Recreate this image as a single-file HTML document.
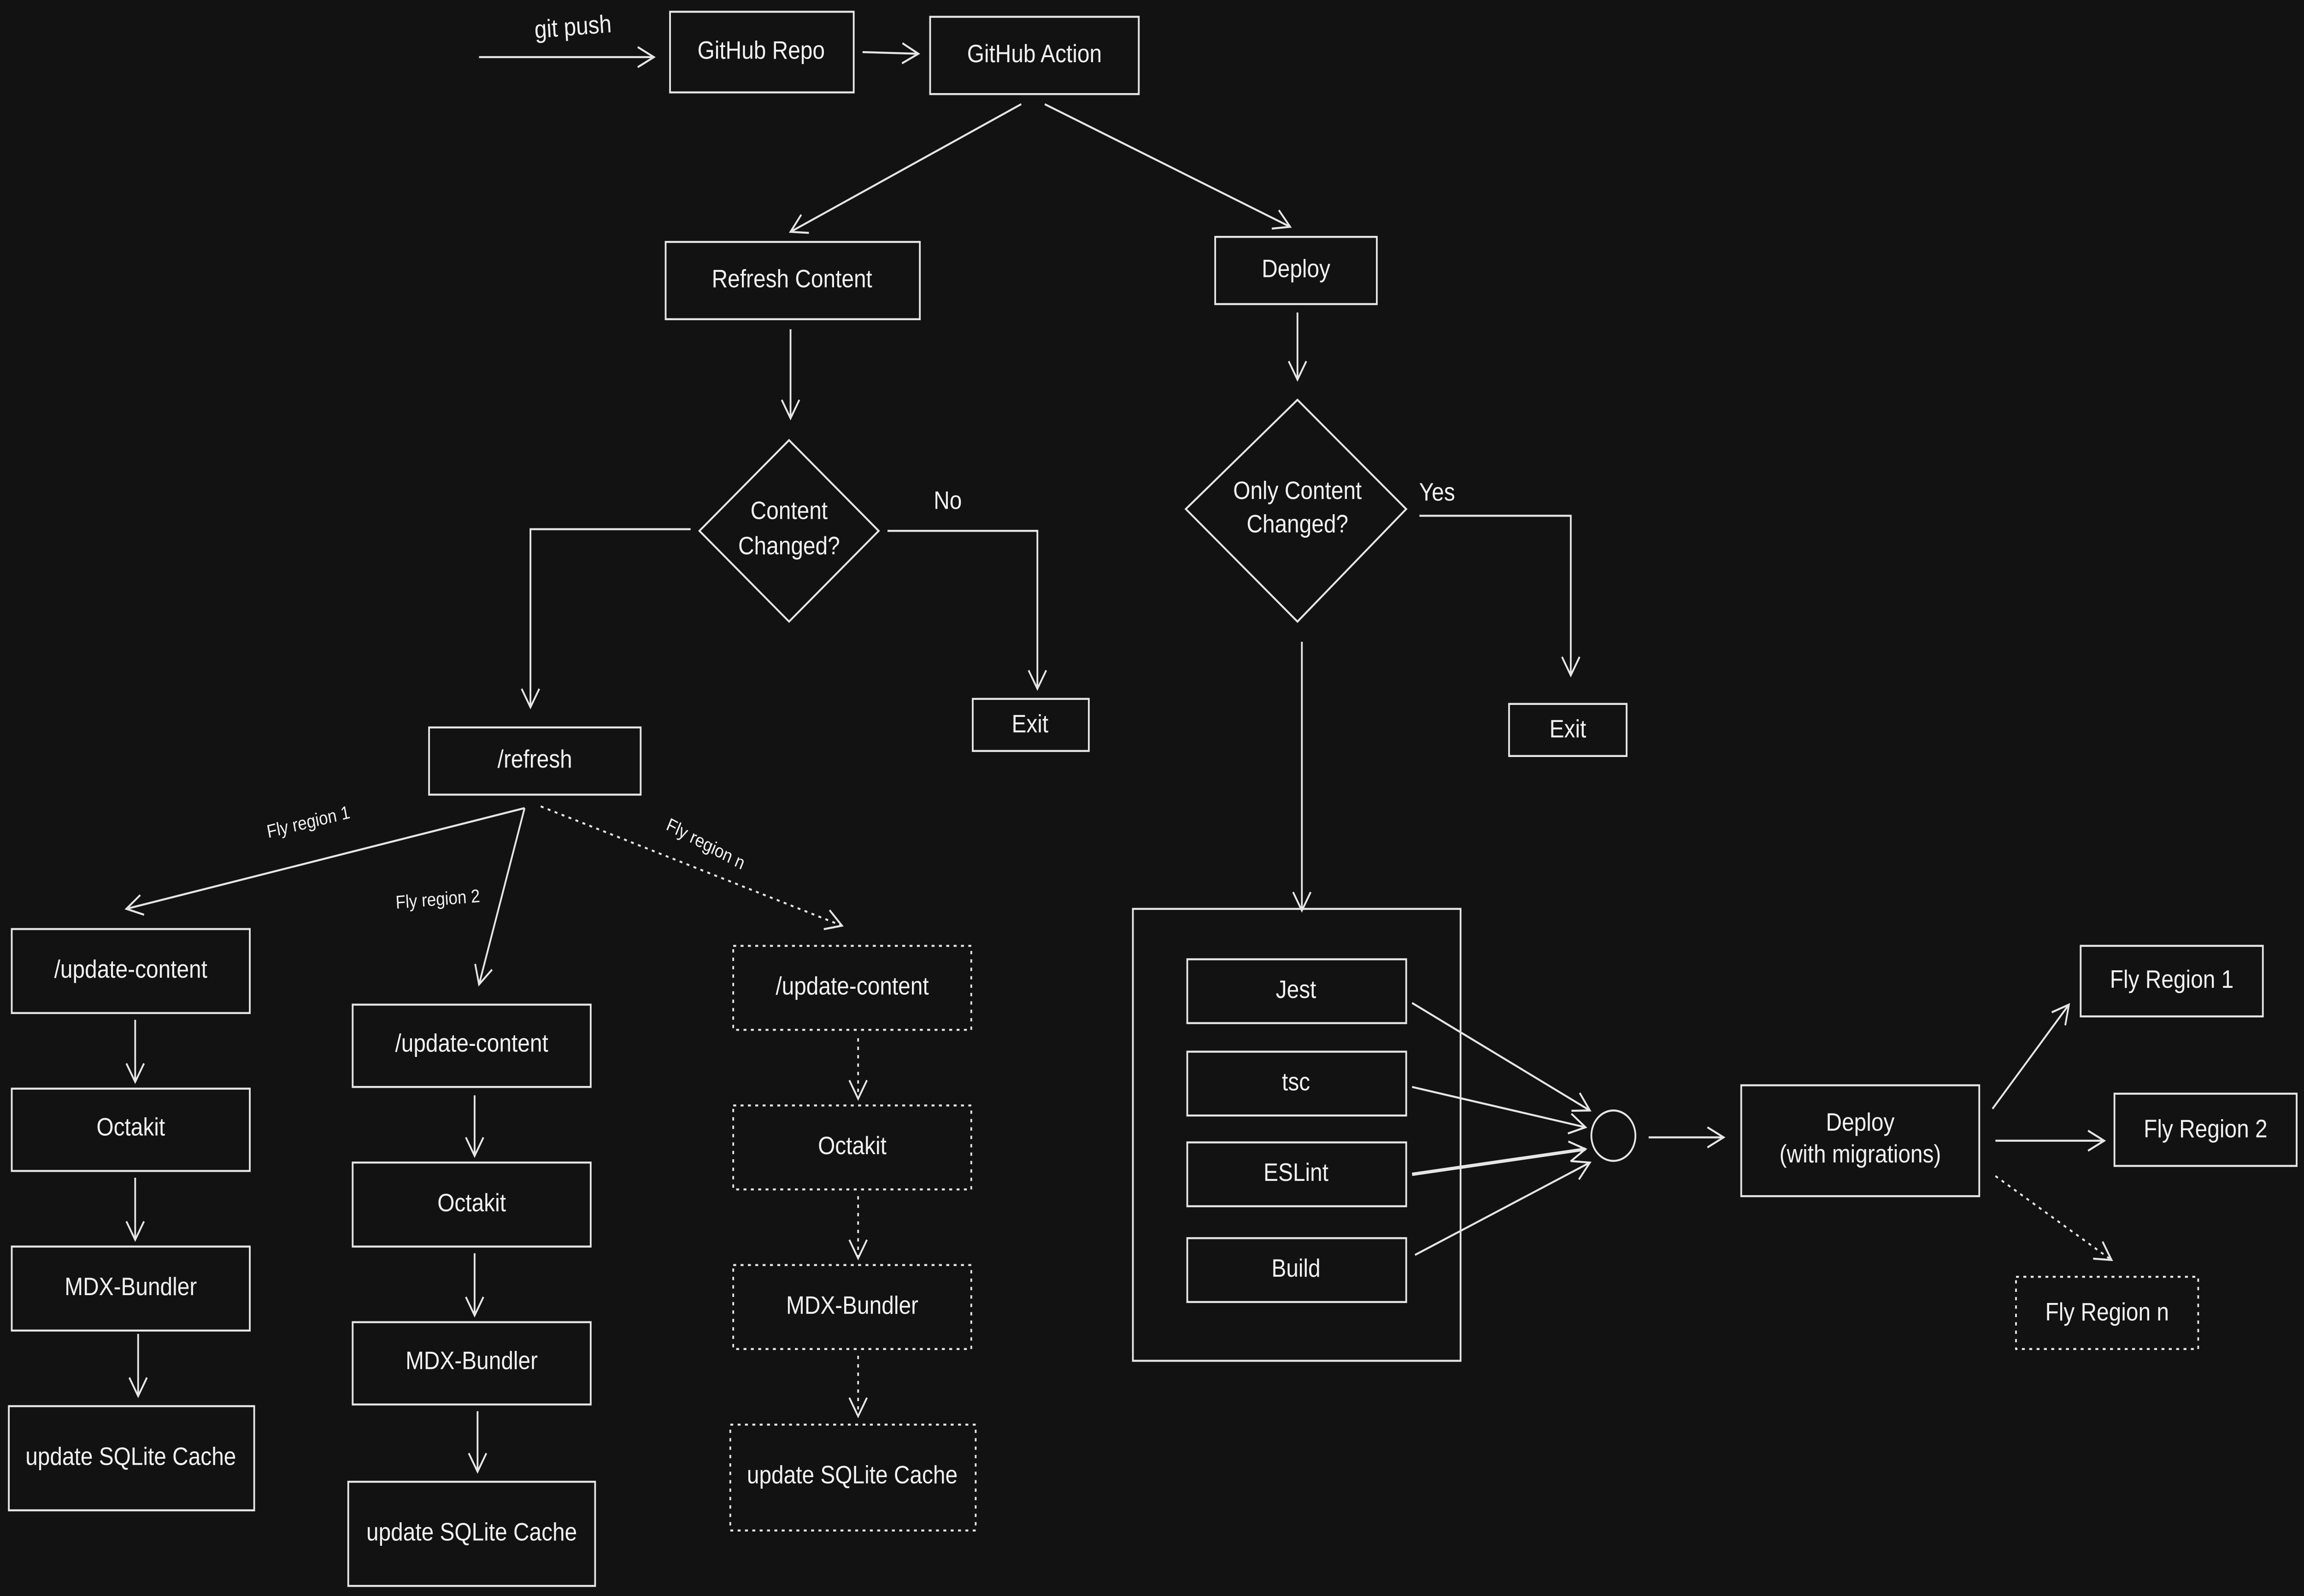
<!DOCTYPE html>
<html><head><meta charset="utf-8"><style>
html,body{margin:0;padding:0;background:#121212;width:100%;height:100%;overflow:hidden;}
svg{display:block;width:100vw;height:100vh;}
text{font-family:"Liberation Sans",sans-serif;fill:#f2f2f2;font-size:15px;text-anchor:middle;dominant-baseline:middle;}
.s{font-size:11px;}
</style></head><body>
<svg viewBox="0 0 1568 950" preserveAspectRatio="none" xmlns="http://www.w3.org/2000/svg">
<defs>
<marker id="a" markerWidth="14" markerHeight="14" refX="12" refY="7" orient="auto" markerUnits="userSpaceOnUse">
<path d="M1,1 L12,7 L1,13" fill="none" stroke="#e6e6e6" stroke-width="1.2"/>
</marker>
</defs>
<rect width="1568" height="950" fill="#121212"/>
<g fill="none" stroke="#e6e6e6" stroke-width="1.2">
<line x1="326" y1="34" x2="445" y2="34" marker-end="url(#a)"/>
<rect x="456" y="7" width="125" height="48"/>
<line x1="587" y1="31" x2="625" y2="32" marker-end="url(#a)"/>
<rect x="633" y="10" width="142" height="46"/>
<line x1="695" y1="62" x2="538" y2="138" marker-end="url(#a)"/>
<line x1="711" y1="62" x2="878" y2="135" marker-end="url(#a)"/>
<rect x="453" y="144" width="173" height="46"/>
<rect x="827" y="141" width="110" height="40"/>
<line x1="538" y1="196" x2="538" y2="249" marker-end="url(#a)"/>
<line x1="883" y1="186" x2="883" y2="226" marker-end="url(#a)"/>
<polygon points="537,262 598,316 537,370 476,316"/>
<polyline points="470,315 361,315 361,421" marker-end="url(#a)"/>
<polyline points="604,316 706,316 706,410" marker-end="url(#a)"/>
<rect x="662" y="416" width="79" height="31"/>
<polygon points="883,238 957,303 883,370 807,303"/>
<polyline points="966,307 1069,307 1069,402" marker-end="url(#a)"/>
<rect x="1027" y="419" width="80" height="31"/>
<line x1="886" y1="382" x2="886" y2="542" marker-end="url(#a)"/>
<rect x="292" y="433" width="144" height="40"/>
<line x1="357" y1="481" x2="86" y2="541" marker-end="url(#a)"/>
<line x1="357" y1="481" x2="326" y2="586" marker-end="url(#a)"/>
<line x1="368" y1="480" x2="573" y2="551" marker-end="url(#a)" stroke-dasharray="2,3"/>
<rect x="8" y="553" width="162" height="50"/>
<rect x="8" y="648" width="162" height="49"/>
<rect x="8" y="742" width="162" height="50"/>
<rect x="6" y="837" width="167" height="62"/>
<line x1="92" y1="607" x2="92" y2="644" marker-end="url(#a)"/>
<line x1="92" y1="701" x2="92" y2="738" marker-end="url(#a)"/>
<line x1="94" y1="794" x2="94" y2="831" marker-end="url(#a)"/>
<rect x="240" y="598" width="162" height="49"/>
<rect x="240" y="692" width="162" height="50"/>
<rect x="240" y="787" width="162" height="49"/>
<rect x="237" y="882" width="168" height="62"/>
<line x1="323" y1="652" x2="323" y2="688" marker-end="url(#a)"/>
<line x1="323" y1="746" x2="323" y2="783" marker-end="url(#a)"/>
<line x1="325" y1="840" x2="325" y2="876" marker-end="url(#a)"/>
<g stroke-dasharray="2,3">
<rect x="499" y="563" width="162" height="50"/>
<rect x="499" y="658" width="162" height="50"/>
<rect x="499" y="753" width="162" height="50"/>
<rect x="497" y="848" width="167" height="63"/>
<line x1="584" y1="618" x2="584" y2="654" marker-end="url(#a)"/>
<line x1="584" y1="712" x2="584" y2="749" marker-end="url(#a)"/>
<line x1="584" y1="807" x2="584" y2="843" marker-end="url(#a)"/>
</g>
<rect x="771" y="541" width="223" height="269"/>
<rect x="808" y="571" width="149" height="38"/>
<rect x="808" y="626" width="149" height="38"/>
<rect x="808" y="680" width="149" height="38"/>
<rect x="808" y="737" width="149" height="38"/>
<line x1="961" y1="597" x2="1082" y2="661" marker-end="url(#a)"/>
<line x1="961" y1="647" x2="1079" y2="671" marker-end="url(#a)"/>
<line x1="961" y1="699" x2="1079" y2="684" marker-end="url(#a)" stroke-width="2"/>
<line x1="963" y1="747" x2="1082" y2="692" marker-end="url(#a)"/>
<circle cx="1098" cy="676" r="15"/>
<line x1="1122" y1="677" x2="1173" y2="677" marker-end="url(#a)"/>
<rect x="1185" y="646" width="162" height="66"/>
<line x1="1356" y1="660" x2="1408" y2="598" marker-end="url(#a)"/>
<line x1="1358" y1="679" x2="1432" y2="679" marker-end="url(#a)"/>
<line x1="1358" y1="700" x2="1437" y2="750" marker-end="url(#a)" stroke-dasharray="2,3"/>
<rect x="1416" y="563" width="124" height="42"/>
<rect x="1439" y="651" width="124" height="43"/>
<rect x="1372" y="760" width="124" height="43" stroke-dasharray="2,3"/>
</g>
<text x="390" y="17" transform="rotate(-4 390 17)">git push</text>
<text x="518" y="31">GitHub Repo</text>
<text x="704" y="33">GitHub Action</text>
<text x="539" y="167">Refresh Content</text>
<text x="882" y="161">Deploy</text>
<text x="537" y="305">Content</text>
<text x="537" y="326">Changed?</text>
<text x="645" y="299">No</text>
<text x="701" y="432">Exit</text>
<text x="883" y="293">Only Content</text>
<text x="883" y="313">Changed?</text>
<text x="978" y="294">Yes</text>
<text x="1067" y="435">Exit</text>
<text x="364" y="453">/refresh</text>
<text class="s" x="210" y="490" transform="rotate(-12 210 490)">Fly region 1</text>
<text class="s" x="298" y="536" transform="rotate(-4 298 536)">Fly region 2</text>
<text class="s" x="480" y="503" transform="rotate(25 480 503)">Fly region n</text>
<text x="89" y="578">/update-content</text>
<text x="89" y="672">Octakit</text>
<text x="89" y="767">MDX-Bundler</text>
<text x="89" y="868">update SQLite Cache</text>
<text x="321" y="622">/update-content</text>
<text x="321" y="717">Octakit</text>
<text x="321" y="811">MDX-Bundler</text>
<text x="321" y="913">update SQLite Cache</text>
<text x="580" y="588">/update-content</text>
<text x="580" y="683">Octakit</text>
<text x="580" y="778">MDX-Bundler</text>
<text x="580" y="879">update SQLite Cache</text>
<text x="882" y="590">Jest</text>
<text x="882" y="645">tsc</text>
<text x="882" y="699">ESLint</text>
<text x="882" y="756">Build</text>
<text x="1266" y="669">Deploy</text>
<text x="1266" y="688">(with migrations)</text>
<text x="1478" y="584">Fly Region 1</text>
<text x="1501" y="673">Fly Region 2</text>
<text x="1434" y="782">Fly Region n</text>
</svg>
</body></html>
